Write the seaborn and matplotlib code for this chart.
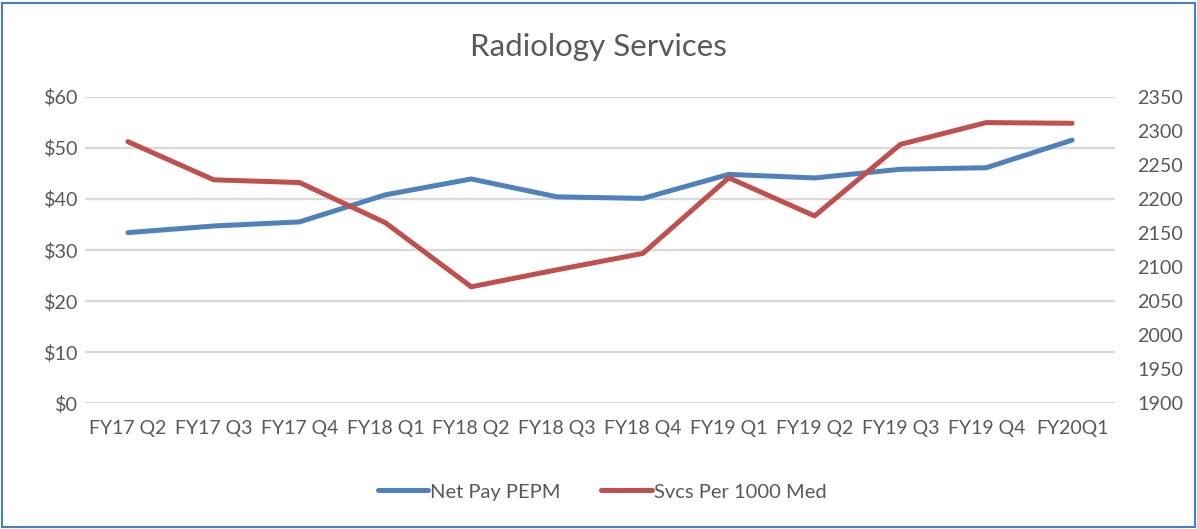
import matplotlib
matplotlib.use("Agg")
import matplotlib.pyplot as plt
import pandas as pd
import seaborn as sns

quarters = ["FY17 Q2", "FY17 Q3", "FY17 Q4", "FY18 Q1", "FY18 Q2", "FY18 Q3",
            "FY18 Q4", "FY19 Q1", "FY19 Q2", "FY19 Q3", "FY19 Q4", "FY20Q1"]
net_pay_pepm = [33.4, 34.7, 35.5, 40.8, 43.9, 40.4, 40.1, 44.8, 44.1, 45.8, 46.1, 51.5]
svcs_per_1000 = [2284, 2228, 2224, 2165, 2071, 2096, 2120, 2231, 2175, 2280, 2312, 2311]

df = pd.DataFrame({"quarter": quarters, "net": net_pay_pepm, "svcs": svcs_per_1000})
df["pos"] = range(len(quarters))

sns.set_theme(style="white")
plt.rcParams["font.family"] = ["Lato", "DejaVu Sans"]
text_col = "#595959"
blue = "#4f81bd"
red = "#c0504d"

fig = plt.figure(figsize=(11.97, 5.29), dpi=100)
ax = fig.add_axes([0.071, 0.2376, 0.8605, 0.5796])
ax2 = ax.twinx()

sns.lineplot(data=df, x="pos", y="net", ax=ax, color=blue, linewidth=3.6,
             label="Net Pay PEPM", legend=False, solid_capstyle="round", zorder=3)
sns.lineplot(data=df, x="pos", y="svcs", ax=ax2, color=red, linewidth=3.6,
             label="Svcs Per 1000 Med", legend=False, solid_capstyle="round", zorder=3)

ax.set_xlim(-0.5, len(quarters) - 0.5)
ax.set_ylim(0, 60)
ax2.set_ylim(1900, 2350)
ax.set_yticks(range(0, 61, 10))
ax.set_yticklabels([f"${v}" for v in range(0, 61, 10)])
ax2.set_yticks(range(1900, 2351, 50))
ax.set_xticks(range(len(quarters)))
ax.set_xticklabels(quarters)
ax.set_xlabel("")
ax.set_ylabel("")
ax2.set_ylabel("")

ax.grid(axis="y", color="#d9d9d9", linewidth=1.6)
ax.grid(axis="x", visible=False)
ax2.grid(False)
for a in (ax, ax2):
    for s in a.spines.values():
        s.set_visible(False)
    a.tick_params(length=0, labelsize=14.2, colors=text_col)
ax.tick_params(axis="x", pad=12, labelsize=14)
ax.tick_params(axis="y", pad=5)
ax2.tick_params(axis="y", pad=16)

fig.suptitle("Radiology Services", x=0.5, y=0.937, fontsize=22.5, color=text_col)

h1, l1 = ax.get_legend_handles_labels()
h2, l2 = ax2.get_legend_handles_labels()
fig.legend(h1 + h2, l1 + l2, loc="center", bbox_to_anchor=(0.503, 0.07), ncol=2,
           frameon=False, fontsize=14.5, labelcolor=text_col, handlelength=2.5,
           handletextpad=0.1, columnspacing=2.0)

border = plt.Rectangle((0.002, 0.004), 0.996, 0.99, transform=fig.transFigure,
                       fill=False, edgecolor="#4a7ebb", linewidth=1.5)
fig.patches.append(border)

fig.savefig("out.png", dpi=100)
